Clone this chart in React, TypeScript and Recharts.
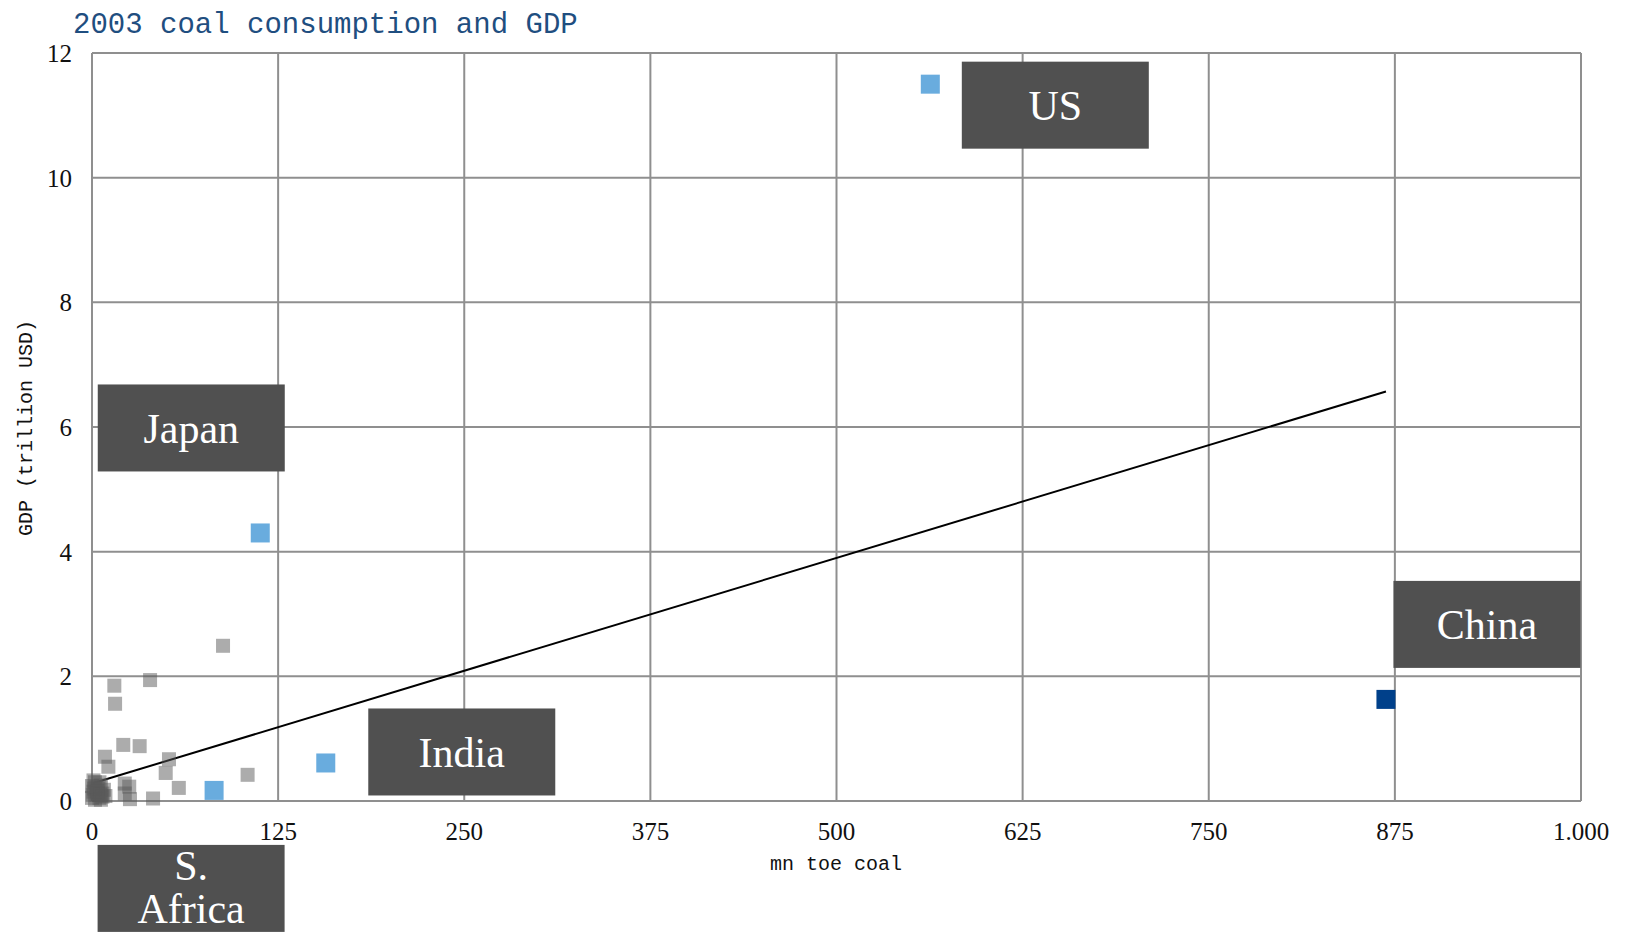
import React from "react";
import { ScatterChart, Scatter, XAxis, YAxis, CartesianGrid, ReferenceLine } from "recharts";

// ---- data ----
const xTicks = [0, 125, 250, 375, 500, 625, 750, 875, 1000];
const xTickLabels = ["0", "125", "250", "375", "500", "625", "750", "875", "1.000"];
const yTicks = [0, 2, 4, 6, 8, 10, 12];

const countries = ["US", "Japan", "China", "India", "S. Africa"];
const countryCoal = [563, 113, 869, 157, 82];
const countryGdp = [11.5, 4.3, 1.63, 0.61, 0.17];

const otherCoal = [
  0, 1, 2, 3, 4, 5, 6, 7, 2, 8, 1, 5, 3, 9, 0.5, 6, 1.5, 4, 7, 3.5, 0, 5.5,
  88, 39, 15, 15.5, 21, 32, 8.7, 11, 51.7, 49.5, 104.5, 58.3, 22, 25, 25.5, 41, 22,
];
const otherGdp = [
  0.05, 0.15, 0.3, 0.1, 0.2, 0.05, 0.25, 0.12, 0.02, 0.18, 0.33, 0.3, 0.22, 0.08, 0.1, 0.02, 0.2, 0.12, 0.07, 0.16, 0.24, 0.1,
  2.49, 1.94, 1.85, 1.56, 0.9, 0.88, 0.71, 0.55, 0.67, 0.45, 0.42, 0.21, 0.28, 0.23, 0.03, 0.04, 0.12,
];

const trendStart = { x: 0, y: 0.28 };
const trendEnd = { x: 869, y: 6.57 };

const highlightData = countries.map((name, i) => ({ x: countryCoal[i], y: countryGdp[i], name }));
const otherData = otherCoal.map((x, i) => ({ x, y: otherGdp[i] }));

// ---- layout / style ----
const labelLayout: Record<string, { dx: number; dy: number; color: string; wrap?: boolean }> = {
  US: { dx: 125, dy: 21, color: "#69ACDE" },
  Japan: { dx: -69, dy: -105, color: "#69ACDE" },
  China: { dx: 101, dy: -75, color: "#00408A" },
  India: { dx: 136, dy: -11, color: "#69ACDE" },
  "S. Africa": { dx: -23, dy: 98, color: "#69ACDE", wrap: true },
};

const GRID = "#8f8f8f";

const GraySquare = (props: any) => {
  const { cx, cy } = props;
  if (cx == null || cy == null) return null;
  return <rect x={cx - 7} y={cy - 7} width={14} height={14} fill="#595959" fillOpacity={0.5} />;
};

const LabeledSquare = (props: any) => {
  const { cx, cy, payload } = props;
  if (cx == null || cy == null) return null;
  const name = payload.name as string;
  const l = labelLayout[name];
  const bw = 187;
  const bh = 87;
  const bx = cx + l.dx - bw / 2;
  const by = cy + l.dy - bh / 2;
  const lines = l.wrap ? name.split(" ") : [name];
  const lh = 43;
  const tcy = cy + l.dy - (l.wrap ? 2 : 0);
  return (
    <g>
      <rect x={cx - 9.5} y={cy - 9.5} width={19} height={19} fill={l.color} />
      <rect x={bx} y={by} width={bw} height={bh} fill="#505050" />
      <text
        x={cx + l.dx}
        y={tcy}
        fill="#ffffff"
        fontFamily="'Liberation Serif', serif"
        fontSize={42}
        textAnchor="middle"
      >
        {lines.map((ln, i) => (
          <tspan
            key={i}
            x={cx + l.dx}
            y={tcy + (i - (lines.length - 1) / 2) * lh}
            dy="0.35em"
          >
            {ln}
          </tspan>
        ))}
      </text>
    </g>
  );
};

const tickStyle = { fontFamily: "'Liberation Serif', serif", fontSize: 25, fill: "#111" };

export default function App() {
  return (
    <div style={{ position: "absolute", left: 0, top: 0, width: 1628, height: 933, background: "#fff", overflow: "hidden" }}>
      <ScatterChart width={1628} height={933} margin={{ top: 53, right: 47, bottom: 0, left: 0 }}>
        <CartesianGrid stroke={GRID} strokeWidth={2} horizontalValues={yTicks} verticalValues={xTicks} />
        <XAxis
          type="number"
          dataKey="x"
          domain={[0, 1000]}
          ticks={xTicks}
          tickFormatter={(v: number) => xTickLabels[xTicks.indexOf(v)]}
          height={132}
          tickLine={false}
          tickSize={19}
          tickMargin={2}
          axisLine={{ stroke: GRID, strokeWidth: 2 }}
          tick={tickStyle}
          interval={0}
        />
        <YAxis
          type="number"
          dataKey="y"
          domain={[0, 12]}
          ticks={yTicks}
          width={92}
          tickLine={false}
          tickSize={18}
          tickMargin={2}
          axisLine={{ stroke: GRID, strokeWidth: 2 }}
          tick={tickStyle}
          interval={0}
        />
        <Scatter data={otherData} shape={GraySquare} isAnimationActive={false} />
        <ReferenceLine
          segment={[trendStart, trendEnd]}
          stroke="#000"
          strokeWidth={2}
          ifOverflow="visible"
        />
        <Scatter data={highlightData} shape={LabeledSquare} isAnimationActive={false} />
      </ScatterChart>
      <svg
        width={1628}
        height={933}
        style={{ position: "absolute", left: 0, top: 0, pointerEvents: "none" }}
      >
        <text x={73} y={33} fill="#1F4E80" fontFamily="'Liberation Mono', monospace" fontSize={29}>
          2003 coal consumption and GDP
        </text>
        <text
          x={836}
          y={864}
          fill="#111"
          fontFamily="'Liberation Mono', monospace"
          fontSize={20}
          textAnchor="middle"
          dominantBaseline="central"
        >
          mn toe coal
        </text>
        <text
          x={26}
          y={428}
          fill="#111"
          fontFamily="'Liberation Mono', monospace"
          fontSize={20}
          textAnchor="middle"
          dominantBaseline="central"
          transform="rotate(-90 26 428)"
        >
          GDP (trillion USD)
        </text>
      </svg>
    </div>
  );
}
